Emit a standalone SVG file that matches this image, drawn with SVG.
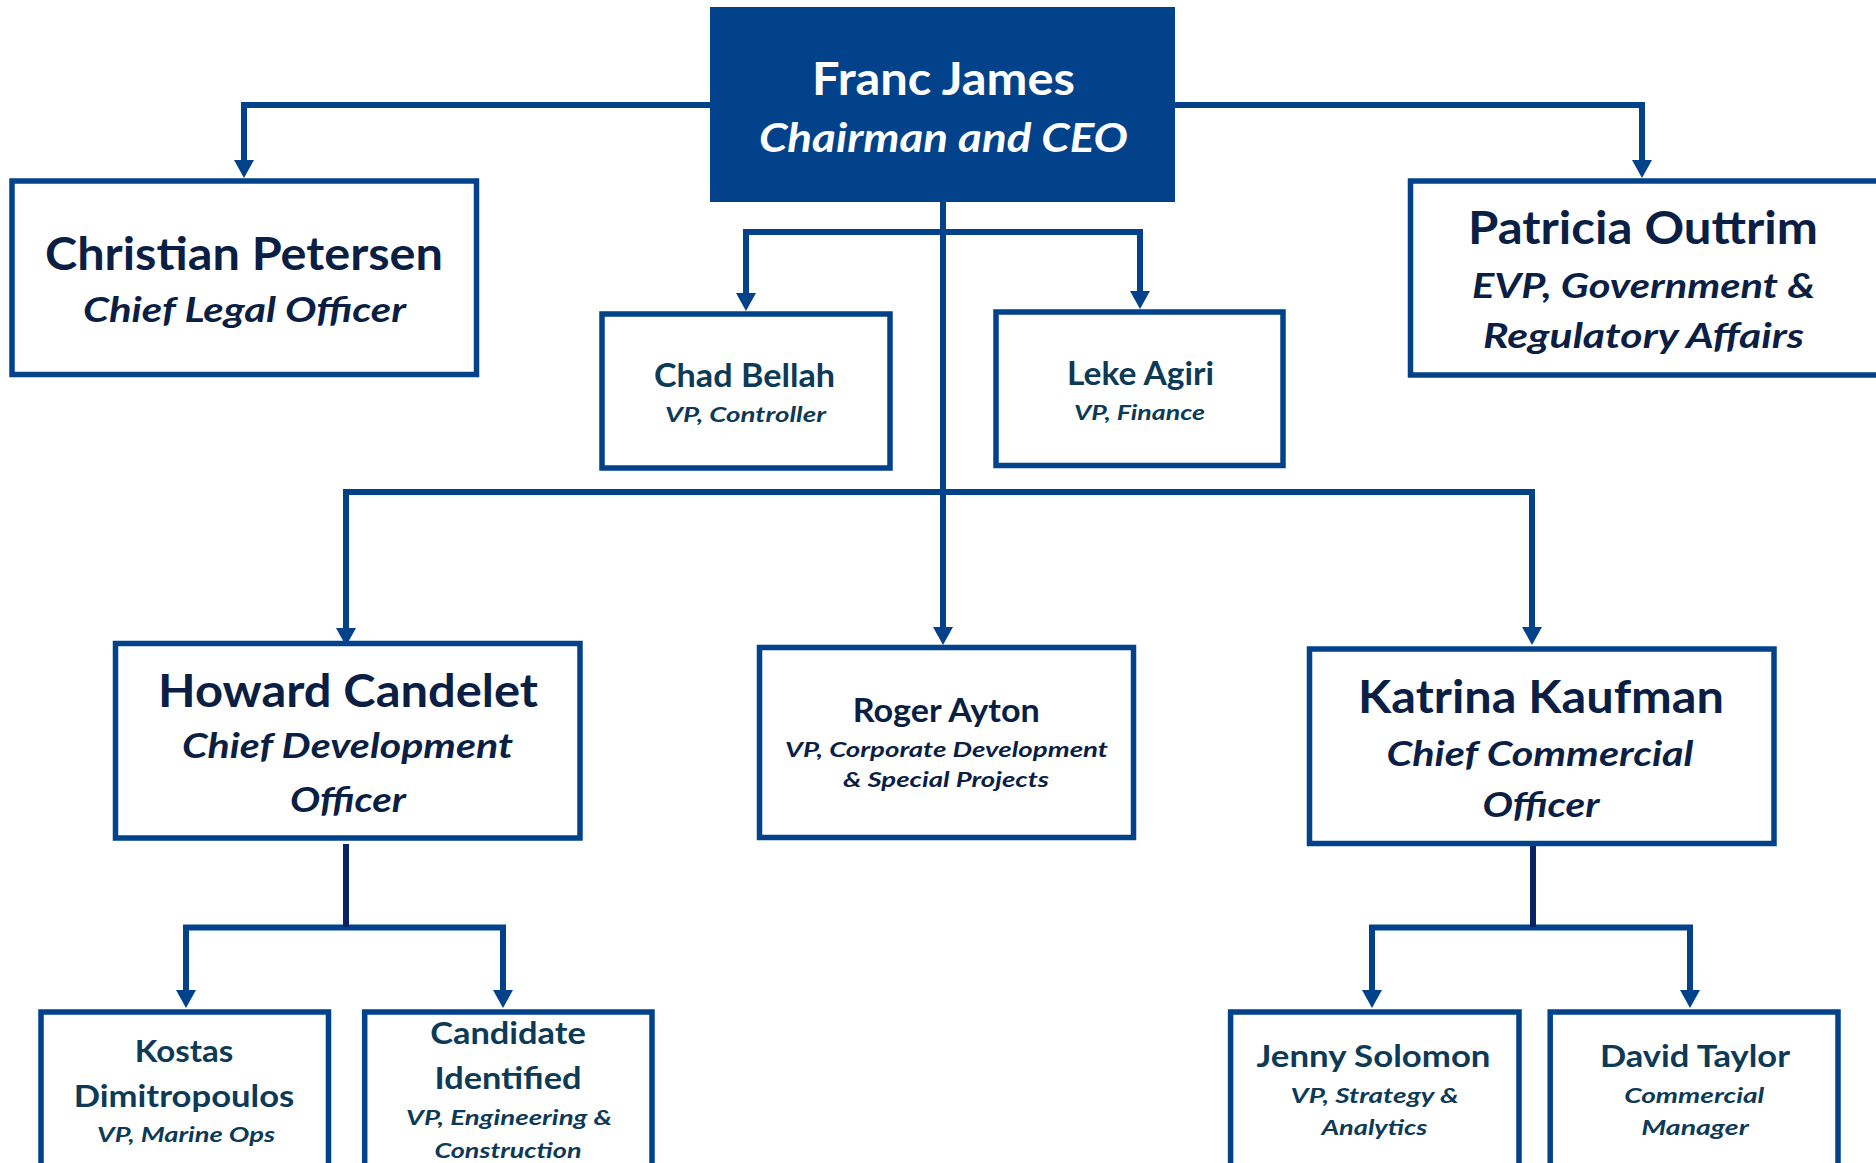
<svg xmlns="http://www.w3.org/2000/svg" width="1876" height="1163" viewBox="0 0 1876 1163">
<style>
.box{fill:#ffffff;stroke:#02428A;stroke-width:5.5}
.ceo{fill:#02428A}
text{font-family:Lato,"Liberation Sans",sans-serif;text-anchor:middle;font-weight:bold}
.n{fill:#0B1F45}
.s{fill:#0C3A57}
.i{font-style:italic}
.w{fill:#ffffff}
.c{fill:none;stroke:#02428A;stroke-width:6;stroke-linejoin:miter}
.d{fill:none;stroke:#0A2463;stroke-width:6}
</style>
<defs>
<marker id="ah" viewBox="0 0 18 20" refX="0" refY="10" markerWidth="18" markerHeight="20" markerUnits="userSpaceOnUse" orient="auto">
<path d="M0,0 L18,10 L0,20 z" fill="#02428A"/>
</marker>
</defs>
<rect width="1876" height="1163" fill="#ffffff"/>
<g id="connectors">
<path class="c" d="M710,105 H244 V160" marker-end="url(#ah)"/>
<path class="c" d="M1175,105 H1642 V160" marker-end="url(#ah)"/>
<path class="c" d="M943,202 V627" marker-end="url(#ah)"/>
<path class="c" d="M943,232 H746 V293" marker-end="url(#ah)"/>
<path class="c" d="M943,232 H1140 V291" marker-end="url(#ah)"/>
<path class="c" d="M943,492 H346 V628" marker-end="url(#ah)"/>
<path class="c" d="M943,492 H1532 V627" marker-end="url(#ah)"/>
<path class="c" d="M346,927.5 H186 V990" marker-end="url(#ah)"/>
<path class="c" d="M346,927.5 H503 V990" marker-end="url(#ah)"/>
<path class="c" d="M1533,927.5 H1372 V990" marker-end="url(#ah)"/>
<path class="c" d="M1533,927.5 H1690 V990" marker-end="url(#ah)"/>
<path class="d" d="M346,844 V927"/>
<path class="d" d="M1533,846 V927"/>
</g>
<g id="ceo">
<rect class="ceo" x="710" y="7" width="465" height="195"/>
<text class="w" x="943.5" y="95" font-size="46" textLength="263" lengthAdjust="spacingAndGlyphs">Franc James</text>
<text class="w i" x="943.5" y="152" font-size="40" textLength="369" lengthAdjust="spacingAndGlyphs">Chairman and CEO</text>
</g>
<g id="petersen">
<rect class="box" x="12" y="181" width="464.5" height="193.5"/>
<text class="n" x="244" y="270" font-size="45" textLength="398" lengthAdjust="spacingAndGlyphs">Christian Petersen</text>
<text class="n i" x="244.5" y="322" font-size="35" textLength="323" lengthAdjust="spacingAndGlyphs">Chief Legal Officer</text>
</g>
<g id="outtrim">
<rect class="box" x="1410.5" y="181" width="1463.5" height="194"/>
<text class="n" x="1643" y="244" font-size="45" textLength="350" lengthAdjust="spacingAndGlyphs">Patricia Outtrim</text>
<text class="n i" x="1643.5" y="298" font-size="35" textLength="343" lengthAdjust="spacingAndGlyphs">EVP, Government &amp;</text>
<text class="n i" x="1643.5" y="348" font-size="35" textLength="321" lengthAdjust="spacingAndGlyphs">Regulatory Affairs</text>
</g>
<g id="bellah">
<rect class="box" x="602" y="314" width="288" height="154"/>
<text class="s" x="744.5" y="387" font-size="33" textLength="181" lengthAdjust="spacingAndGlyphs">Chad Bellah</text>
<text class="s i" x="745.5" y="422" font-size="21.5" textLength="161" lengthAdjust="spacingAndGlyphs">VP, Controller</text>
</g>
<g id="agiri">
<rect class="box" x="996" y="312" width="287" height="153.5"/>
<text class="s" x="1140.5" y="385" font-size="33" textLength="147" lengthAdjust="spacingAndGlyphs">Leke Agiri</text>
<text class="s i" x="1139.5" y="420" font-size="21.5" textLength="131" lengthAdjust="spacingAndGlyphs">VP, Finance</text>
</g>
<g id="candelet">
<rect class="box" x="115.5" y="643.5" width="464.5" height="194.5"/>
<text class="n" x="348" y="707" font-size="45" textLength="380" lengthAdjust="spacingAndGlyphs">Howard Candelet</text>
<text class="n i" x="347.5" y="758" font-size="34" textLength="331" lengthAdjust="spacingAndGlyphs">Chief Development</text>
<text class="n i" x="348" y="812" font-size="34" textLength="116" lengthAdjust="spacingAndGlyphs">Officer</text>
</g>
<g id="ayton">
<rect class="box" x="759.5" y="647.5" width="374" height="190"/>
<text class="n" x="946.3" y="722" font-size="33" textLength="187" lengthAdjust="spacingAndGlyphs">Roger Ayton</text>
<text class="n i" x="946.5" y="757" font-size="21.5" textLength="323" lengthAdjust="spacingAndGlyphs">VP, Corporate Development</text>
<text class="n i" x="946" y="787" font-size="21.5" textLength="206" lengthAdjust="spacingAndGlyphs">&amp; Special Projects</text>
</g>
<g id="kaufman">
<rect class="box" x="1309.5" y="649" width="464.5" height="194.5"/>
<text class="n" x="1541" y="713" font-size="45" textLength="366" lengthAdjust="spacingAndGlyphs">Katrina Kaufman</text>
<text class="n i" x="1540" y="766" font-size="34" textLength="307" lengthAdjust="spacingAndGlyphs">Chief Commercial</text>
<text class="n i" x="1541" y="817" font-size="34" textLength="117" lengthAdjust="spacingAndGlyphs">Officer</text>
</g>
<g id="dimitropoulos">
<rect class="box" x="41" y="1012" width="287.5" height="200"/>
<text class="s" x="184" y="1062" font-size="31" textLength="98.5" lengthAdjust="spacingAndGlyphs">Kostas</text>
<text class="s" x="184" y="1107" font-size="31" textLength="220.5" lengthAdjust="spacingAndGlyphs">Dimitropoulos</text>
<text class="s i" x="186" y="1142" font-size="21.5" textLength="178" lengthAdjust="spacingAndGlyphs">VP, Marine Ops</text>
</g>
<g id="candidate">
<rect class="box" x="364.7" y="1012" width="287.3" height="200"/>
<text class="s" x="508" y="1044" font-size="31" textLength="155.6" lengthAdjust="spacingAndGlyphs">Candidate</text>
<text class="s" x="508" y="1089" font-size="31" textLength="147" lengthAdjust="spacingAndGlyphs">Identified</text>
<text class="s i" x="509" y="1125" font-size="21.5" textLength="206" lengthAdjust="spacingAndGlyphs">VP, Engineering &amp;</text>
<text class="s i" x="508" y="1158" font-size="21.5" textLength="147" lengthAdjust="spacingAndGlyphs">Construction</text>
</g>
<g id="solomon">
<rect class="box" x="1230.6" y="1012" width="288.4" height="200"/>
<text class="s" x="1373.5" y="1067" font-size="31" textLength="234" lengthAdjust="spacingAndGlyphs">Jenny Solomon</text>
<text class="s i" x="1374.6" y="1103" font-size="21.5" textLength="168" lengthAdjust="spacingAndGlyphs">VP, Strategy &amp;</text>
<text class="s i" x="1374.4" y="1135" font-size="21.5" textLength="106" lengthAdjust="spacingAndGlyphs">Analytics</text>
</g>
<g id="taylor">
<rect class="box" x="1550.2" y="1012" width="287.8" height="200"/>
<text class="s" x="1695" y="1067" font-size="31" textLength="190" lengthAdjust="spacingAndGlyphs">David Taylor</text>
<text class="s i" x="1694.3" y="1103" font-size="21.5" textLength="140" lengthAdjust="spacingAndGlyphs">Commercial</text>
<text class="s i" x="1695" y="1135" font-size="21.5" textLength="107.5" lengthAdjust="spacingAndGlyphs">Manager</text>
</g>
</svg>
